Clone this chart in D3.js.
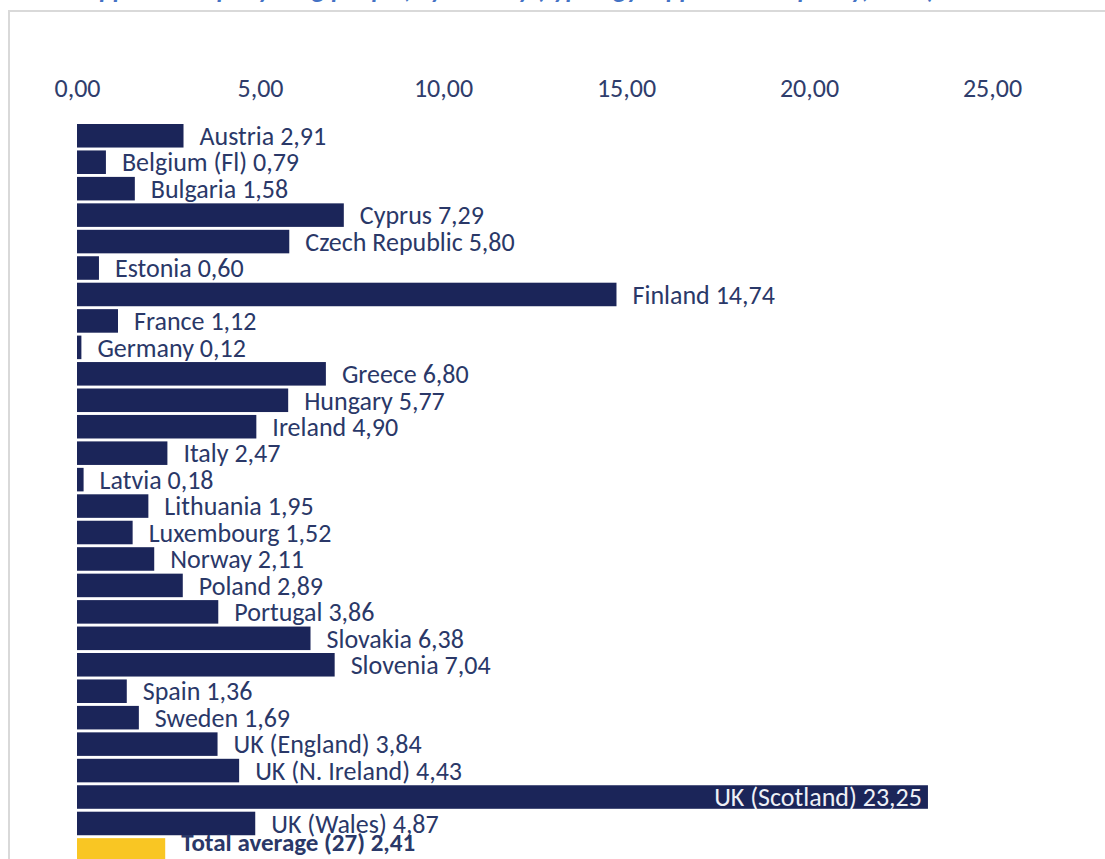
<!DOCTYPE html>
<html>
<head>
<meta charset="utf-8">
<script src="https://cdn.jsdelivr.net/npm/d3@7"></script>
<style>
  html, body { margin: 0; padding: 0; background: #fff; overflow: hidden; }
  svg { display: block; font-family: Carlito, Calibri, Lato, sans-serif; }
</style>
</head>
<body>
<div id="chart"></div>
<script>
// values
const countries = ["Austria", "Belgium (Fl)", "Bulgaria", "Cyprus", "Czech Republic", "Estonia",
    "Finland", "France", "Germany", "Greece", "Hungary", "Ireland", "Italy", "Latvia",
    "Lithuania", "Luxembourg", "Norway", "Poland", "Portugal", "Slovakia", "Slovenia",
    "Spain", "Sweden", "UK (England)", "UK (N. Ireland)", "UK (Scotland)", "UK (Wales)"];
const values = [2.91, 0.79, 1.58, 7.29, 5.80, 0.60, 14.74, 1.12, 0.12, 6.80, 5.77, 4.90, 2.47, 0.18,
    1.95, 1.52, 2.11, 2.89, 3.86, 6.38, 7.04, 1.36, 1.69, 3.84, 4.43, 23.25, 4.87];
const totalLabel = "Total average (27)";
const totalValue = 2.41;
const xTicks = [0, 5, 10, 15, 20, 25];

const W = 1105, H = 859;
const fmt = v => d3.format(".2f")(v).replace(".", ",");

const rows = countries.map((c, i) => ({ name: c, value: values[i], total: false }));
rows.push({ name: totalLabel, value: totalValue, total: true });

const svg = d3.select("#chart").append("svg")
    .attr("width", W)
    .attr("height", H);

// title, mostly cut off at the top of the picture
svg.append("text")
    .attr("x", 510)
    .attr("y", -2)
    .attr("text-anchor", "middle")
    .style("font-size", "26px")
    .style("font-weight", "bold")
    .style("font-style", "italic")
    .style("fill", "#4472c4")
    .text("Apprentices per young people, by country (typology: apprenticeship only, 2019)");

// frame of the chart area
svg.append("path")
    .attr("d", `M9,${H + 5} L9,11 L${W + 5},11`)
    .attr("fill", "none")
    .attr("stroke", "#d9d9d9")
    .attr("stroke-width", 2);

const x = d3.scaleLinear()
    .domain([0, 25])
    .range([77, 992]);

const y = d3.scaleBand()
    .domain(rows.map(d => d.name))
    .range([124, 124 + 26.45 * (rows.length - 0.11)])
    .paddingInner(0.11)
    .paddingOuter(0);

// top axis, labels only
const axis = svg.append("g")
    .attr("transform", "translate(0,97)")
    .call(d3.axisTop(x).tickValues(xTicks).tickFormat(fmt).tickSize(0).tickPadding(0));
axis.select(".domain").remove();
axis.selectAll("text")
    .style("font-family", "Carlito, Calibri, Lato, sans-serif")
    .style("font-size", "26px")
    .style("fill", "#2f3d6c");

// bars
svg.append("g")
    .selectAll("rect")
    .data(rows)
    .enter().append("rect")
    .attr("x", x(0))
    .attr("y", d => y(d.name))
    .attr("width", d => x(d.value) - x(0))
    .attr("height", y.bandwidth())
    .attr("fill", d => d.total ? "#f9c623" : "#1b2559");

// labels
svg.append("g")
    .selectAll("text")
    .data(rows)
    .enter().append("text")
    .attr("x", d => d.value > 20 ? x(d.value) - 6 : x(d.value) + 16)
    .attr("y", d => y(d.name) + (d.total ? 13 : 21))
    .attr("text-anchor", d => d.value > 20 ? "end" : "start")
    .style("font-size", d => d.total ? "25px" : "26px")
    .style("font-weight", d => d.total ? "bold" : "normal")
    .style("fill", d => d.value > 20 ? "#eef0f6" : "#2a3868")
    .text(d => `${d.name} ${fmt(d.value)}`);
</script>
</body>
</html>
